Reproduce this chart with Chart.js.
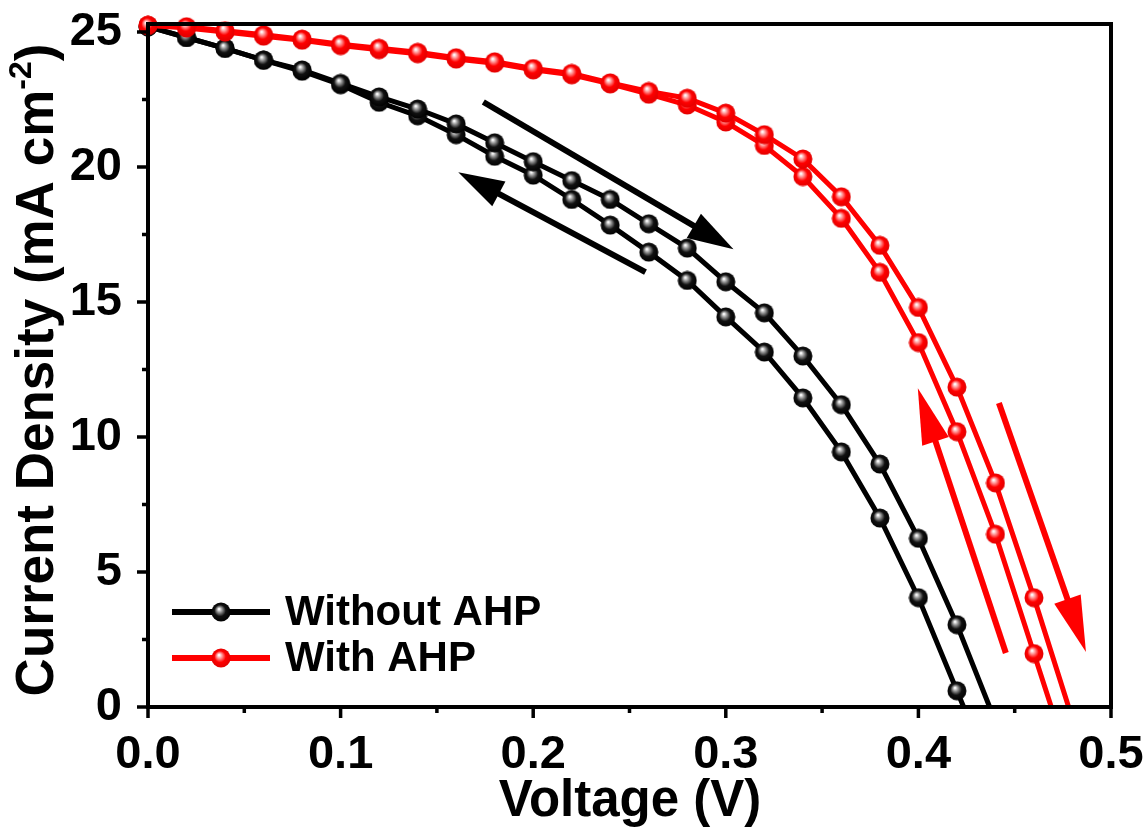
<!DOCTYPE html>
<html>
<head>
<meta charset="utf-8">
<script src="https://cdn.jsdelivr.net/npm/chart.js@4.4.1/dist/chart.umd.min.js"></script>
<style>
  html, body { margin: 0; padding: 0; background: #fff; }
  #wrap { width: 1143px; height: 835px; }
</style>
</head>
<body>
<div id="wrap"><canvas id="jv"></canvas></div>
<script>
// J-V curves, forward and reverse scans
const voltage = [0.00, 0.02, 0.04, 0.06, 0.08, 0.10, 0.12, 0.14, 0.16, 0.18, 0.20, 0.22,
                 0.24, 0.26, 0.28, 0.30, 0.32, 0.34, 0.36, 0.38, 0.40, 0.42, 0.44, 0.46];

const withoutScanA = [25.2, 24.8, 24.4, 23.96, 23.6, 23.1, 22.6, 22.15, 21.6, 20.9, 20.2, 19.5,
                      18.8, 17.9, 17.0, 15.75, 14.6, 13.0, 11.2, 9.0, 6.25, 3.05];
const withoutScanB = [25.2, 24.8, 24.4, 23.96, 23.55, 23.05, 22.4, 21.9, 21.2, 20.4, 19.7, 18.8,
                      17.85, 16.85, 15.8, 14.45, 13.15, 11.45, 9.45, 7.0, 4.05, 0.6];
const withScanA = [25.25, 25.2, 25.05, 24.9, 24.74, 24.55, 24.4, 24.25, 24.05, 23.9, 23.65, 23.47,
                   23.12, 22.8, 22.55, 22.0, 21.2, 20.3, 18.9, 17.1, 14.8, 11.85, 8.3, 4.05];
const withScanB = [25.25, 25.15, 25.0, 24.85, 24.7, 24.5, 24.35, 24.2, 24.0, 23.85, 23.6, 23.42,
                   23.08, 22.7, 22.3, 21.67, 20.8, 19.65, 18.1, 16.1, 13.5, 10.2, 6.4, 1.98];

// open-circuit voltages (line runs down to J = 0 there, no marker)
const vocWithout = [0.437, 0.4235];
const vocWith = [0.478, 0.469];

const seriesLabels = ['Without AHP', 'With AHP'];
const xTickValues = [0, 0.1, 0.2, 0.3, 0.4, 0.5];
const yTickValues = [0, 5, 10, 15, 20, 25];

// scan direction arrows: [x0, y0, x1, y1] in data units, head at (x1, y1)
const blackArrows = [[0.1741, 22.41, 0.3040, 16.96], [0.2583, 16.11, 0.1611, 19.81]];
const redArrows = [[0.4454, 2.0, 0.3997, 11.81], [0.4418, 11.26, 0.4870, 2.04]];

function toPoints(j, voc) {
  const pts = j.map((v, i) => ({ x: voltage[i], y: v }));
  pts.push({ x: voc, y: 0 });
  return pts;
}

// shaded ball marker
function ball(dark, mid, light) {
  const c = document.createElement('canvas');
  c.width = 20; c.height = 20;
  const g = c.getContext('2d');
  const grad = g.createRadialGradient(8, 7, 0.5, 10, 10, 10);
  grad.addColorStop(0, '#ffffff');
  grad.addColorStop(0.22, light);
  grad.addColorStop(0.55, mid);
  grad.addColorStop(1, dark);
  g.fillStyle = grad;
  g.beginPath();
  g.arc(10, 10, 9.5, 0, Math.PI * 2);
  g.fill();
  return c;
}
const blackBall = ball('#000000', '#111111', '#9a9a9a');
const redBall = ball('#e00000', '#ff0000', '#ff9a9a');

const FONT = '"Liberation Sans", Arial, sans-serif';

function lineSet(label, pts, color, img) {
  const last = pts.length - 1;
  return {
    label: label,
    data: pts,
    borderColor: color,
    backgroundColor: color,
    borderWidth: 5,
    tension: 0,
    clip: false,
    pointStyle: img,
    pointRadius: ctx => (ctx.dataIndex === last ? 0 : 10),
    pointHoverRadius: ctx => (ctx.dataIndex === last ? 0 : 10)
  };
}

function drawArrow(ctx, chart, a, color, width, headLen, headW) {
  const xs = chart.scales.x, ys = chart.scales.y;
  const x0 = xs.getPixelForValue(a[0]), y0 = ys.getPixelForValue(a[1]);
  const x1 = xs.getPixelForValue(a[2]), y1 = ys.getPixelForValue(a[3]);
  const ang = Math.atan2(y1 - y0, x1 - x0);
  const bx = x1 - headLen * Math.cos(ang), by = y1 - headLen * Math.sin(ang);
  ctx.strokeStyle = color;
  ctx.fillStyle = color;
  ctx.lineWidth = width;
  ctx.lineCap = 'butt';
  ctx.beginPath();
  ctx.moveTo(x0, y0);
  ctx.lineTo(bx + 2 * Math.cos(ang), by + 2 * Math.sin(ang));
  ctx.stroke();
  ctx.beginPath();
  ctx.moveTo(x1, y1);
  ctx.lineTo(bx + headW / 2 * Math.sin(ang), by - headW / 2 * Math.cos(ang));
  ctx.lineTo(bx - headW / 2 * Math.sin(ang), by + headW / 2 * Math.cos(ang));
  ctx.closePath();
  ctx.fill();
}

const decor = {
  id: 'decor',
  beforeDatasetsDraw(chart) {
    const ctx = chart.ctx;
    ctx.save();
    blackArrows.forEach(a => drawArrow(ctx, chart, a, '#000', 6, 46, 28));
    redArrows.forEach(a => drawArrow(ctx, chart, a, '#ff0000', 6, 56, 28));
    ctx.restore();
  },
  afterDraw(chart) {
    const ctx = chart.ctx;
    const area = chart.chartArea;
    const xs = chart.scales.x, ys = chart.scales.y;
    ctx.save();

    // frame
    ctx.strokeStyle = '#000';
    ctx.lineWidth = 4;
    ctx.strokeRect(area.left, area.top, area.right - area.left, area.bottom - area.top);

    // ticks, outward, major + minor
    ctx.lineWidth = 3.5;
    ctx.beginPath();
    for (let v = 0; v <= 0.5001; v += 0.05) {
      const px = xs.getPixelForValue(v);
      const major = Math.abs(v * 10 - Math.round(v * 10)) < 1e-6;
      ctx.moveTo(px, area.bottom);
      ctx.lineTo(px, area.bottom + (major ? 11 : 6));
    }
    for (let v = 0; v <= 25.001; v += 2.5) {
      const py = ys.getPixelForValue(v);
      const major = Math.abs(v / 5 - Math.round(v / 5)) < 1e-6;
      ctx.moveTo(area.left, py);
      ctx.lineTo(area.left - (major ? 11 : 6), py);
    }
    ctx.stroke();

    // axis titles
    ctx.fillStyle = '#000';
    ctx.font = 'bold 51px ' + FONT;
    ctx.textAlign = 'center';
    ctx.textBaseline = 'middle';
    ctx.fillText('Voltage (V)', 630, 802);

    ctx.save();
    ctx.translate(38, 370);
    ctx.rotate(-Math.PI / 2);
    const main = 'Current Density (mA cm';
    const sup = '-2';
    const tail = ')';
    ctx.font = 'bold 53px ' + FONT;
    const wMain = ctx.measureText(main).width;
    const wTail = ctx.measureText(tail).width;
    ctx.font = 'bold 32px ' + FONT;
    const wSup = ctx.measureText(sup).width;
    const total = wMain + wSup + wTail;
    let x = -total / 2;
    ctx.textAlign = 'left';
    ctx.font = 'bold 53px ' + FONT;
    ctx.fillText(main, x, 0);
    x += wMain;
    ctx.font = 'bold 32px ' + FONT;
    ctx.fillText(sup, x, -16);
    x += wSup;
    ctx.font = 'bold 53px ' + FONT;
    ctx.fillText(tail, x, 0);
    ctx.restore();

    // legend
    const rows = [[seriesLabels[0], '#000', blackBall, 612], [seriesLabels[1], '#ff0000', redBall, 658]];
    rows.forEach(r => {
      ctx.strokeStyle = r[1];
      ctx.lineWidth = 6;
      ctx.beginPath();
      ctx.moveTo(172, r[3]);
      ctx.lineTo(270, r[3]);
      ctx.stroke();
      ctx.drawImage(r[2], 211, r[3] - 10);
      ctx.fillStyle = '#000';
      ctx.font = 'bold 42px ' + FONT;
      ctx.textAlign = 'left';
      ctx.textBaseline = 'middle';
      ctx.fillText(r[0], 285, r[3] + 1);
    });

    ctx.restore();
  }
};

const datasets = [
  lineSet(seriesLabels[1], toPoints(withScanA, vocWith[0]), '#ff0000', redBall),
  lineSet(seriesLabels[1], toPoints(withScanB, vocWith[1]), '#ff0000', redBall),
  lineSet(seriesLabels[0], toPoints(withoutScanA, vocWithout[0]), '#000000', blackBall),
  lineSet(seriesLabels[0], toPoints(withoutScanB, vocWithout[1]), '#000000', blackBall)
];

new Chart(document.getElementById('jv'), {
  type: 'line',
  data: { datasets: datasets },
  options: {
    responsive: true,
    maintainAspectRatio: false,
    animation: false,
    layout: { padding: { top: 24, right: 32, left: 0, bottom: 0 } },
    plugins: { legend: { display: false }, tooltip: { enabled: false } },
    scales: {
      x: {
        type: 'linear',
        min: 0,
        max: 0.5,
        afterBuildTicks: s => { s.ticks = xTickValues.map(v => ({ value: v })); },
        afterFit: s => { s.height = 128; s.paddingLeft = 0; s.paddingRight = 0; },
        grid: { display: false },
        border: { display: false },
        ticks: {
          padding: 12,
          maxRotation: 0,
          color: '#000',
          font: { family: FONT, size: 47, weight: 'bold' },
          callback: v => Number(v).toFixed(1)
        }
      },
      y: {
        min: 0,
        max: 25.3,
        afterBuildTicks: s => { s.ticks = yTickValues.map(v => ({ value: v })); },
        afterFit: s => { s.width = 148; s.paddingTop = 0; s.paddingBottom = 0; },
        grid: { display: false },
        border: { display: false },
        ticks: {
          padding: 18,
          color: '#000',
          font: { family: FONT, size: 47, weight: 'bold' }
        }
      }
    }
  },
  plugins: [decor]
});
</script>
</body>
</html>
